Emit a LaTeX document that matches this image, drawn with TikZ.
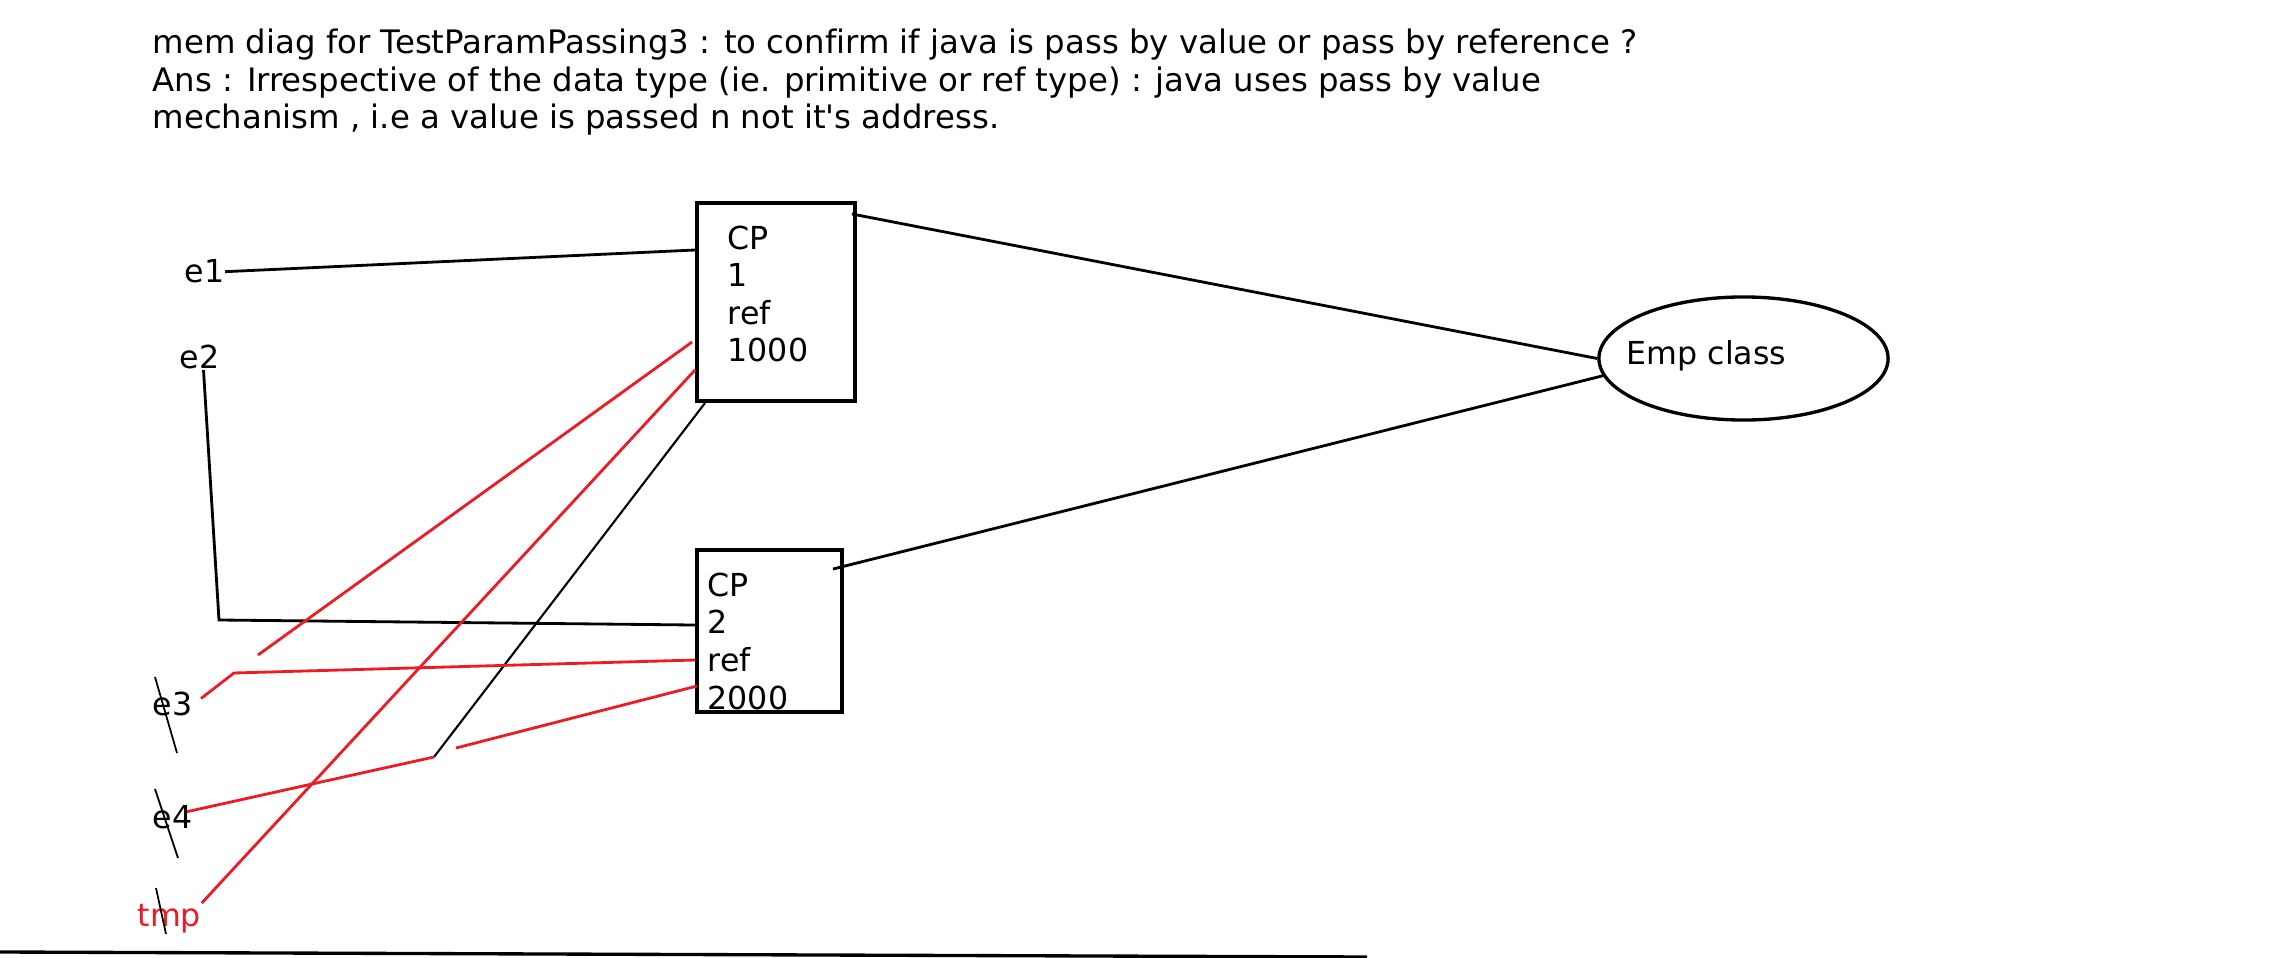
\documentclass[tikz,border=0pt]{standalone}
\usepackage{fontspec}
\setmainfont{DejaVu Sans}[Ligatures={TeXOff,CommonOff}]
\usepackage{xcolor}
\usepackage{tikz}
\usetikzlibrary{shapes.geometric, calc}
\definecolor{paintred}{RGB}{237,28,36}
\tikzstyle{memcell} = [rectangle, draw, line width=1.1pt, inner sep=0pt]
\tikzstyle{classobj} = [ellipse, draw, line width=0.95pt, inner sep=0pt]
\tikzstyle{txt} = [inner sep=0pt, anchor=base west, align=left, font=\fontsize{9}{10.7}\selectfont]
\tikzstyle{link} = [line width=0.8pt]
\tikzstyle{thinlink} = [line width=0.6pt]
\tikzstyle{redlink} = [line width=0.8pt, draw=paintred]
\tikzstyle{strike} = [line width=0.5pt]

\begin{document}
\begin{tikzpicture}[x=0.01cm, y=-0.01cm]
        \path[use as bounding box, fill=white] (0,0) rectangle (2288,958);

        % heading
        \node (head) [txt, font=\fontsize{9.2}{10.7}\selectfont] at (152,129) {mem diag for TestParamPassing3 : to confirm if java is pass by value or pass by reference ?\\Ans : Irrespective of the data type (ie. primitive or ref type) : java uses pass by value\\mechanism , i.e a value is passed n not it's address.};

        % objects on the heap
        \node (cpa) [memcell, minimum width=1.58cm, minimum height=1.98cm] at (776,302) {};
        \node (cpatxt) [txt] at (727,362) {CP\\1\\ref\\1000};
        \node (cpb) [memcell, minimum width=1.45cm, minimum height=1.62cm] at (769.5,631) {};
        \node (cpbtxt) [txt] at (707,709) {CP\\2\\ref\\2000};
        \node (emp) [classobj, minimum width=2.89cm, minimum height=1.23cm] at (1743.5,358.5) {};
        \node (emptxt) [txt] at (1626,365) {Emp class};

        % reference variables
        \node (e1) [txt] at (184,283) {e1};
        \node (e2) [txt] at (179,369) {e2};
        \node (e3) [txt] at (152,715) {e3};
        \node (e4) [txt] at (152,828) {e4};
        \node (tmp) [txt, text=paintred] at (137,926) {tmp};

        % free ends
        \coordinate (bend2) at (219,620);
        \coordinate (bend3) at (234,673);
        \coordinate (oldend) at (434,757);
        \coordinate (redend) at (258,655);
        \coordinate (gapend) at (456,748);

        % links
        \draw [link] (e1.east) -- ($(cpa.north west)+(0,49)$);
        \draw [link] ($(e2.south)+(4,0)$) -- (bend2) -- ($(cpb.north west)+(0,77)$);
        \draw [link] ($(cpa.north east)+(-5,13)$) -- (emp.west);
        \draw [link] ($(cpb.north east)+(-11,21)$) -- (emp.187);
        \draw [thinlink] ($(cpa.south west)+(10,0)$) -- (oldend);

        \draw [redlink] ($(cpa.north west)+(-3,141)$) -- (redend);
        \draw [redlink] ($(cpa.north west)+(0,169)$) -- (tmp.north east);
        \draw [redlink] ($(e3.east)+(8,-5)$) -- (bend3) -- ($(cpb.north west)+(0,112)$);
        \draw [redlink] ($(e4.east)+(-6,-5)$) -- (oldend);
        \draw [redlink] (gapend) -- ($(cpb.north west)+(2,138)$);

        % crossed out
        \draw [strike] ($(e3.base west)+(3,-38)$) -- ($(e3.base west)+(25,38)$);
        \draw [strike] ($(e4.base west)+(3,-39)$) -- ($(e4.base west)+(26,30)$);
        \draw [strike] ($(tmp.base west)+(19,-38)$) -- ($(tmp.base west)+(29,8)$);

        % bottom rule
        \draw [line width=0.95pt] (0,952) -- (1367,957);
\end{tikzpicture}
\end{document}
